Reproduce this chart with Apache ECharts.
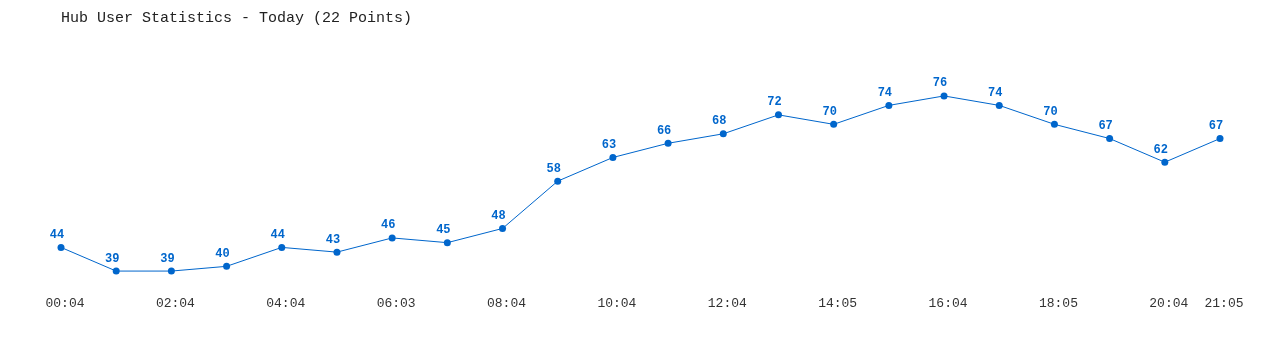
<!DOCTYPE html>
<html>
<head>
<meta charset="utf-8">
<script src="https://cdn.jsdelivr.net/npm/echarts@6/dist/echarts.min.js"></script>
<style>html,body{margin:0;padding:0;background:#fff}#c{width:1280px;height:350px}</style>
</head>
<body>
<div id="c"></div>
<script>
const title = "Hub User Statistics - Today (22 Points)";
const times = ["00:04","","02:04","","04:04","","06:03","","08:04","","10:04","","12:04","","14:05","","16:04","","18:05","","20:04","21:05"];
const users = [44,39,39,40,44,43,46,45,48,58,63,66,68,72,70,74,76,74,70,67,62,67];

const chart = echarts.init(document.getElementById('c'));
chart.setOption({
  animation: false,
  backgroundColor: '#fff',
  title: {
    text: title, left: 56, top: 6,
    textStyle: {fontFamily: 'Liberation Mono, DejaVu Sans Mono, monospace', fontSize: 15, fontWeight: 'normal', color: '#222'}
  },
  grid: {left: 61, right: 60, top: 77, bottom: 60},
  xAxis: {
    type: 'category', data: times, boundaryGap: false,
    axisLine: {show: false}, axisTick: {show: false}, splitLine: {show: false},
    axisLabel: {
      interval: 0, margin: 7, padding: [0, 0, 0, 8],
      formatter: v => v,
      fontFamily: 'Liberation Mono, DejaVu Sans Mono, monospace', fontSize: 13, color: '#333'
    }
  },
  yAxis: {type: 'value', min: 35, max: 80, show: false, splitLine: {show: false}},
  series: [{
    type: 'line', data: users,
    symbol: 'circle', symbolSize: 7,
    lineStyle: {color: '#0066cc', width: 1},
    itemStyle: {color: '#0066cc'},
    label: {show: true, position: 'top', distance: 3, offset: [-4, 0], color: '#0066cc',
      fontFamily: 'Liberation Mono, DejaVu Sans Mono, monospace', fontSize: 12, fontWeight: 'bold'}
  }]
});
</script>
</body>
</html>
